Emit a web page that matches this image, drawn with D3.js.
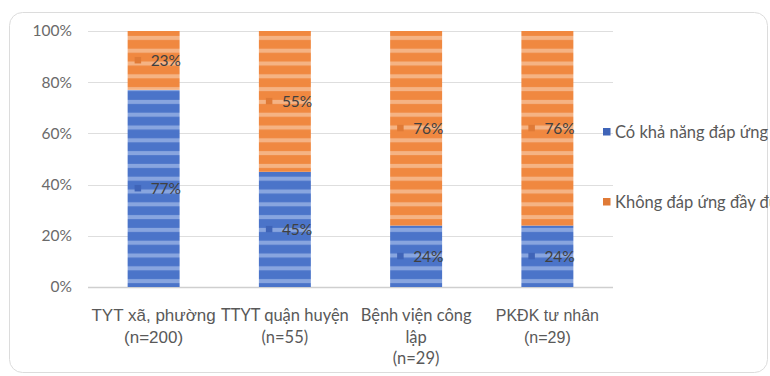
<!DOCTYPE html>
<html>
<head>
<meta charset="utf-8">
<script src="https://cdn.jsdelivr.net/npm/d3@7"></script>
<style>
  html, body { margin: 0; padding: 0; background: #ffffff; }
  svg { display: block; }
</style>
</head>
<body>
<svg id="chart" width="770" height="376"></svg>
<script>
// Categories (facility types) and their axis label lines
const categories = ["TYT xã, phường", "TTYT quận huyện", "Bệnh viện công lập", "PKĐK tư nhân"];
const categoryLines = [
  ["TYT xã, phường", "(n=200)"],
  ["TTYT quận huyện", "(n=55)"],
  ["Bệnh viện công", "lập", "(n=29)"],
  ["PKĐK tư nhân", "(n=29)"]
];

// Series names and values (percent)
const seriesNames = ["Có khả năng đáp ứng", "Không đáp ứng đầy đủ"];
const capable = [77, 45, 24, 24];
const notFully = [23, 55, 76, 76];

// Y axis ticks
const yTicks = [0, 20, 40, 60, 80, 100];

const svg = d3.select("#chart");

const plot = { left: 88, right: 613, top: 31, bottom: 287 };

const rows = categories.map((c, i) => ({
  category: c,
  [seriesNames[0]]: capable[i],
  [seriesNames[1]]: notFully[i]
}));

const x = d3.scaleBand()
  .domain(categories)
  .range([plot.left, plot.right])
  .paddingInner(0.604)
  .paddingOuter(0.302);

const y = d3.scaleLinear().domain([0, 100]).range([plot.bottom, plot.top]);

const seriesColors = {
  [seriesNames[0]]: { base: "#4b74c9", light: "#88a5df", key: "#3f64b8" },
  [seriesNames[1]]: { base: "#f08840", light: "#f5b384", key: "#e07a36" }
};

// Outer rounded frame
svg.append("rect")
  .attr("x", 9.5).attr("y", 12.5)
  .attr("width", 758).attr("height", 360)
  .attr("rx", 13).attr("ry", 13)
  .attr("fill", "#ffffff")
  .attr("stroke", "#dcdcdc")
  .attr("stroke-width", 1);

// Striped fills for the bars
const defs = svg.append("defs");
const stripeStep = y(0) - y(5);
seriesNames.forEach((name, i) => {
  const c = seriesColors[name];
  const p = defs.append("pattern")
    .attr("id", "stripe" + i)
    .attr("patternUnits", "userSpaceOnUse")
    .attr("x", 0).attr("y", plot.top)
    .attr("width", 10).attr("height", stripeStep);
  p.append("rect").attr("width", 10).attr("height", stripeStep).attr("fill", c.base);
  p.append("rect").attr("y", stripeStep * 0.38).attr("width", 10).attr("height", stripeStep * 0.32).attr("fill", c.light);
});

// Gridlines
svg.append("g")
  .selectAll("line")
  .data(yTicks)
  .join("line")
  .attr("x1", plot.left).attr("x2", plot.right)
  .attr("y1", d => Math.round(y(d)) + 0.5)
  .attr("y2", d => Math.round(y(d)) + 0.5)
  .attr("stroke", d => d === 0 ? "#cfcfcf" : "#dedede")
  .attr("stroke-width", d => d === 0 ? 1.5 : 1);

// Y axis labels
const yAxis = d3.axisLeft(y)
  .tickValues(yTicks)
  .tickFormat(d => d + "%")
  .tickSize(0)
  .tickPadding(0);
const yg = svg.append("g")
  .attr("transform", "translate(72,0)")
  .call(yAxis);
yg.select(".domain").remove();
yg.selectAll("text")
  .attr("font-family", "Lato, 'Open Sans', sans-serif")
  .attr("font-size", 15.5)
  .attr("fill", "#6a6a6a");

// Stacked bars
const stacked = d3.stack().keys(seriesNames)(rows);
const layers = svg.append("g")
  .selectAll("g")
  .data(stacked)
  .join("g")
  .attr("fill", (d, i) => "url(#stripe" + i + ")");

layers.selectAll("rect")
  .data(d => d)
  .join("rect")
  .attr("x", d => x(d.data.category))
  .attr("width", x.bandwidth())
  .attr("y", d => y(d[1]))
  .attr("height", d => y(d[0]) - y(d[1]));

// Data labels with series key squares
const labelGroups = svg.append("g")
  .selectAll("g")
  .data(stacked)
  .join("g");

labelGroups.each(function(layer, i) {
  const g = d3.select(this);
  const name = seriesNames[i];
  layer.forEach(d => {
    const cx = x(d.data.category) + x.bandwidth() / 2;
    const cy = y((d[0] + d[1]) / 2);
    g.append("rect")
      .attr("x", cx - 19).attr("y", cy - 3.5)
      .attr("width", 6.5).attr("height", 6.5)
      .attr("fill", seriesColors[name].key);
    g.append("text")
      .attr("x", cx - 3)
      .attr("y", cy)
      .attr("dy", "0.36em")
      .attr("font-family", "Lato, 'Open Sans', sans-serif")
      .attr("font-size", 15.5)
      .attr("fill", "#404040")
      .text(d.data[name] + "%");
  });
});

// Category labels
const labelFonts = [
  { family: "'Liberation Sans', Arial, sans-serif", size: 17 },
  { family: "Lato, 'Open Sans', sans-serif", size: 16.5 },
  { family: "Lato, 'Open Sans', sans-serif", size: 16.5 },
  { family: "'Liberation Sans', Arial, sans-serif", size: 16 }
];
const xg = svg.append("g");
categories.forEach((c, i) => {
  const t = xg.append("text")
    .attr("x", x(c) + x.bandwidth() / 2)
    .attr("y", 321)
    .attr("text-anchor", "middle")
    .attr("font-family", labelFonts[i].family)
    .attr("font-size", labelFonts[i].size)
    .attr("fill", "#595959");
  categoryLines[i].forEach((line, j) => {
    t.append("tspan")
      .attr("x", x(c) + x.bandwidth() / 2)
      .attr("dy", j === 0 ? 0 : 21.5)
      .text(line);
  });
});

// Legend
const legend = svg.append("g")
  .selectAll("g")
  .data(seriesNames)
  .join("g")
  .attr("transform", (d, i) => `translate(603,${[132, 202][i]})`);
legend.append("rect")
  .attr("x", 0).attr("y", -4)
  .attr("width", 7.5).attr("height", 7.5)
  .attr("fill", d => seriesColors[d].key);
legend.append("text")
  .attr("x", 12)
  .attr("y", 0)
  .attr("dy", "0.35em")
  .attr("font-family", "Lato, 'Open Sans', sans-serif")
  .attr("font-size", 16.5)
  .attr("fill", "#595959")
  .text(d => d);
</script>
</body>
</html>
